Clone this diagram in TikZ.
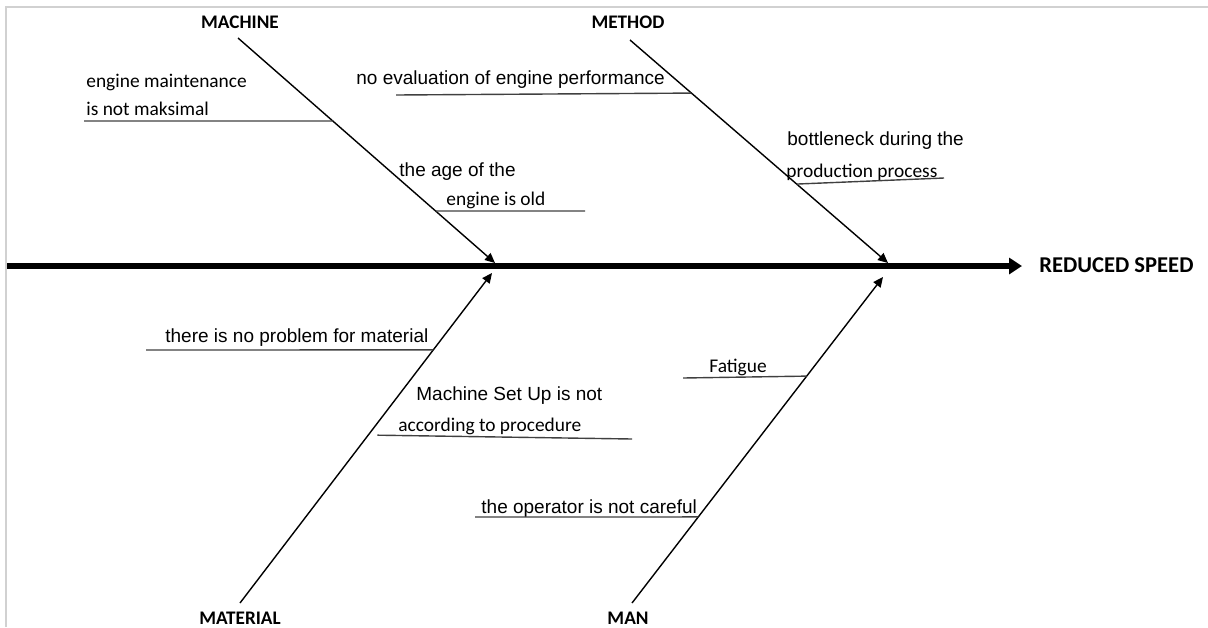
\documentclass[tikz,border=0pt]{standalone}
\usepackage{fontspec}
\setmainfont{Liberation Sans}
\newfontfamily\calibri{Carlito}
\usetikzlibrary{arrows.meta}
\tikzset{
  causetext/.style={anchor=west, inner sep=0pt, text height=0.75em, text depth=0.15em, font=\fontsize{9.5}{11}\selectfont},
  notetext/.style={causetext, font=\calibri\fontsize{9.7}{11}\selectfont},
  bonelabel/.style={inner sep=0pt, text height=0.75em, text depth=0.15em, font=\calibri\bfseries\fontsize{9.6}{11}\selectfont},
  effectlabel/.style={anchor=west, inner sep=0pt, text height=0.75em, text depth=0.15em, font=\calibri\bfseries\fontsize{11.3}{13}\selectfont},
  spine/.style={-{Triangle[length=6.5pt,width=8pt]}, line width=2.6pt},
  bone/.style={-{Triangle[length=5pt,width=4.5pt]}, line width=0.7pt},
  subline/.style={line width=0.7pt, draw=black!75},
  frameline/.style={line width=0.8pt, draw=black!18}
}
\begin{document}
\begin{tikzpicture}[x=0.5pt,y=-0.5pt]
  \useasboundingbox (0,0) rectangle (1208,627);
  \draw[frameline] (6,627) -- (6,7) -- (1208,7);

  % head and spine
  \node[effectlabel] (effect) at (1039,266) {REDUCED SPEED};
  \coordinate (tail) at (7,266);
  \draw[spine, shorten >=8.5pt] (tail) -- (effect.west);

  % category labels
  \node[bonelabel] (machine) at (240,22) {MACHINE};
  \node[bonelabel] (method) at (628,22) {METHOD};
  \node[bonelabel] (material) at (240,618) {MATERIAL};
  \node[bonelabel] (man) at (628,618) {MAN};

  % bones
  \coordinate (machineBase) at (238,38);   \coordinate (machineTip) at (495,263);
  \coordinate (methodBase) at (630,40);    \coordinate (methodTip) at (888,263);
  \coordinate (materialBase) at (240,603); \coordinate (materialTip) at (492,273);
  \coordinate (manBase) at (632,603);      \coordinate (manTip) at (883,277);
  \draw[bone] (machineBase) -- (machineTip);
  \draw[bone] (methodBase) -- (methodTip);
  \draw[bone] (materialBase) -- (materialTip);
  \draw[bone] (manBase) -- (manTip);

  % points on the bones
  \path (machineBase) -- (machineTip) coordinate[pos=0.369] (mc1) coordinate[pos=0.769] (mc2);
  \path (methodBase) -- (methodTip) coordinate[pos=0.238] (me1) coordinate[pos=0.646] (me2);
  \path (materialBase) -- (materialTip) coordinate[pos=0.767] (ma1) coordinate[pos=0.509] (ma2);
  \path (manBase) -- (manTip) coordinate[pos=0.696] (mn1) coordinate[pos=0.264] (mn2);

  % machine causes
  \node[notetext] (mc1a) at (86,81) {engine maintenance};
  \node[notetext] (mc1b) at (86,109) {is not maksimal};
  \draw[subline] (mc1) -- (84,121);
  \node[causetext] (mc2a) at (399,170) {the age of the};
  \node[notetext] (mc2b) at (446,199) {engine is old};
  \draw[subline] (mc2) -- (585,211);

  % method causes
  \node[causetext] (me1a) at (356,78) {no evaluation of engine performance};
  \draw[subline] (me1) -- (396,95);
  \node[causetext] (me2a) at (787,139) {bottleneck during the};
  \node[notetext] (me2b) at (786,171) {production process};
  \draw[subline] (me2) -- (944,178);

  % material causes
  \node[causetext] (ma1a) at (165,336) {there is no problem for material};
  \draw[subline] (ma1) -- (146,350);
  \node[causetext] (ma2a) at (416,394) {Machine Set Up is not};
  \node[notetext] (ma2b) at (398,425) {according to procedure};
  \draw[subline, shorten <=4.5pt] (ma2) -- (632,439);

  % man causes
  \node[notetext] (mn1a) at (709,366) {Fatigue};
  \draw[subline] (mn1) -- (683,378);
  \node[causetext] (mn2a) at (481,507) {the operator is not careful};
  \draw[subline] (mn2) -- (475,517);
\end{tikzpicture}
\end{document}
